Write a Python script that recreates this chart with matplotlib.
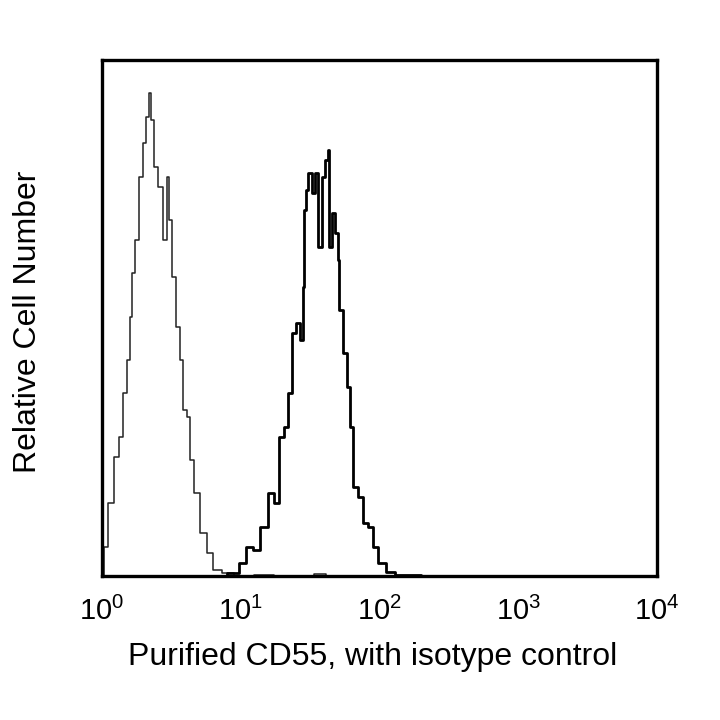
import matplotlib
matplotlib.use("Agg")
import matplotlib.pyplot as plt
import numpy as np

plt.rcParams['font.family'] = ['Liberation Sans', 'DejaVu Sans']

# isotype control (thin trace)
iso_x = [1.0, 1.05, 1.17, 1.28, 1.39, 1.46, 1.55, 1.61, 1.68, 1.78, 1.93, 2.04,
         2.12, 2.22, 2.32, 2.41, 2.62, 2.85, 3.00, 3.09, 3.27, 3.55, 3.75, 3.96,
         4.19, 4.43, 4.81, 5.37, 6.00, 6.71, 7.92, 10.0, 15.0, 20.0, 30.0, 37.0,
         45.0, 60.0]
iso_y = [0, 29, 73, 119, 139, 183, 216, 259, 303, 336, 399, 433,
         459, 483, 456, 409, 389, 336, 399, 356, 299, 249, 216, 166,
         159, 116, 83, 43, 23, 6, 3, 0, 1, 0, 0, 2,
         0, 0]

# purified CD55 (thick trace)
cd_x = [7.0, 8.84, 10.43, 11.34, 13.03, 14.54, 16.72, 18.16, 19.73, 21.44, 22.65,
        23.92, 25.99, 27.50, 28.24, 29.05, 29.88, 31.56, 33.34, 35.28, 37.26,
        39.35, 41.64, 42.76, 43.98, 46.45, 49.14, 50.47, 51.91, 56.43, 59.60,
        63.05, 66.60, 72.35, 78.63, 85.41, 92.80, 103.7, 119.1, 140.5, 166.0,
        231.0, 260.0]
cd_y = [0, 3, 13, 29, 26, 49, 83, 73, 139, 149, 183,
        243, 253, 236, 289, 366, 386, 403, 383, 403, 329,
        399, 416, 426, 329, 363, 343, 316, 266, 223, 189,
        149, 89, 79, 53, 49, 29, 13, 4, 1, 1,
        0, 0]

fig = plt.figure(figsize=(7.2, 7.2), dpi=100)
ax = fig.add_axes([0.1417, 0.2, 0.7708, 0.7167])

ax.plot(iso_x, iso_y, drawstyle='steps-mid', color='#222222', lw=1.1)
ax.plot(cd_x, cd_y, drawstyle='steps-mid', color='black', lw=2.0)

ax.set_xscale('log')
ax.set_xlim(1, 1e4)
ax.set_ylim(0, 516)
ax.set_xticks([1, 10, 100, 1000, 10000])
ax.xaxis.set_minor_locator(matplotlib.ticker.NullLocator())
ax.set_yticks([])
ax.tick_params(axis='x', length=0, pad=15, labelsize=21)
for s in ax.spines.values():
    s.set_linewidth(2.4)

ax.set_xlabel('Purified CD55, with isotype control', fontsize=23, va='center')
ax.set_ylabel('Relative Cell Number', fontsize=23, va='center')
ax.xaxis.set_label_coords(0.487, -0.157)
ax.yaxis.set_label_coords(-0.133, 0.492)

fig.savefig('out.png', dpi=100)
